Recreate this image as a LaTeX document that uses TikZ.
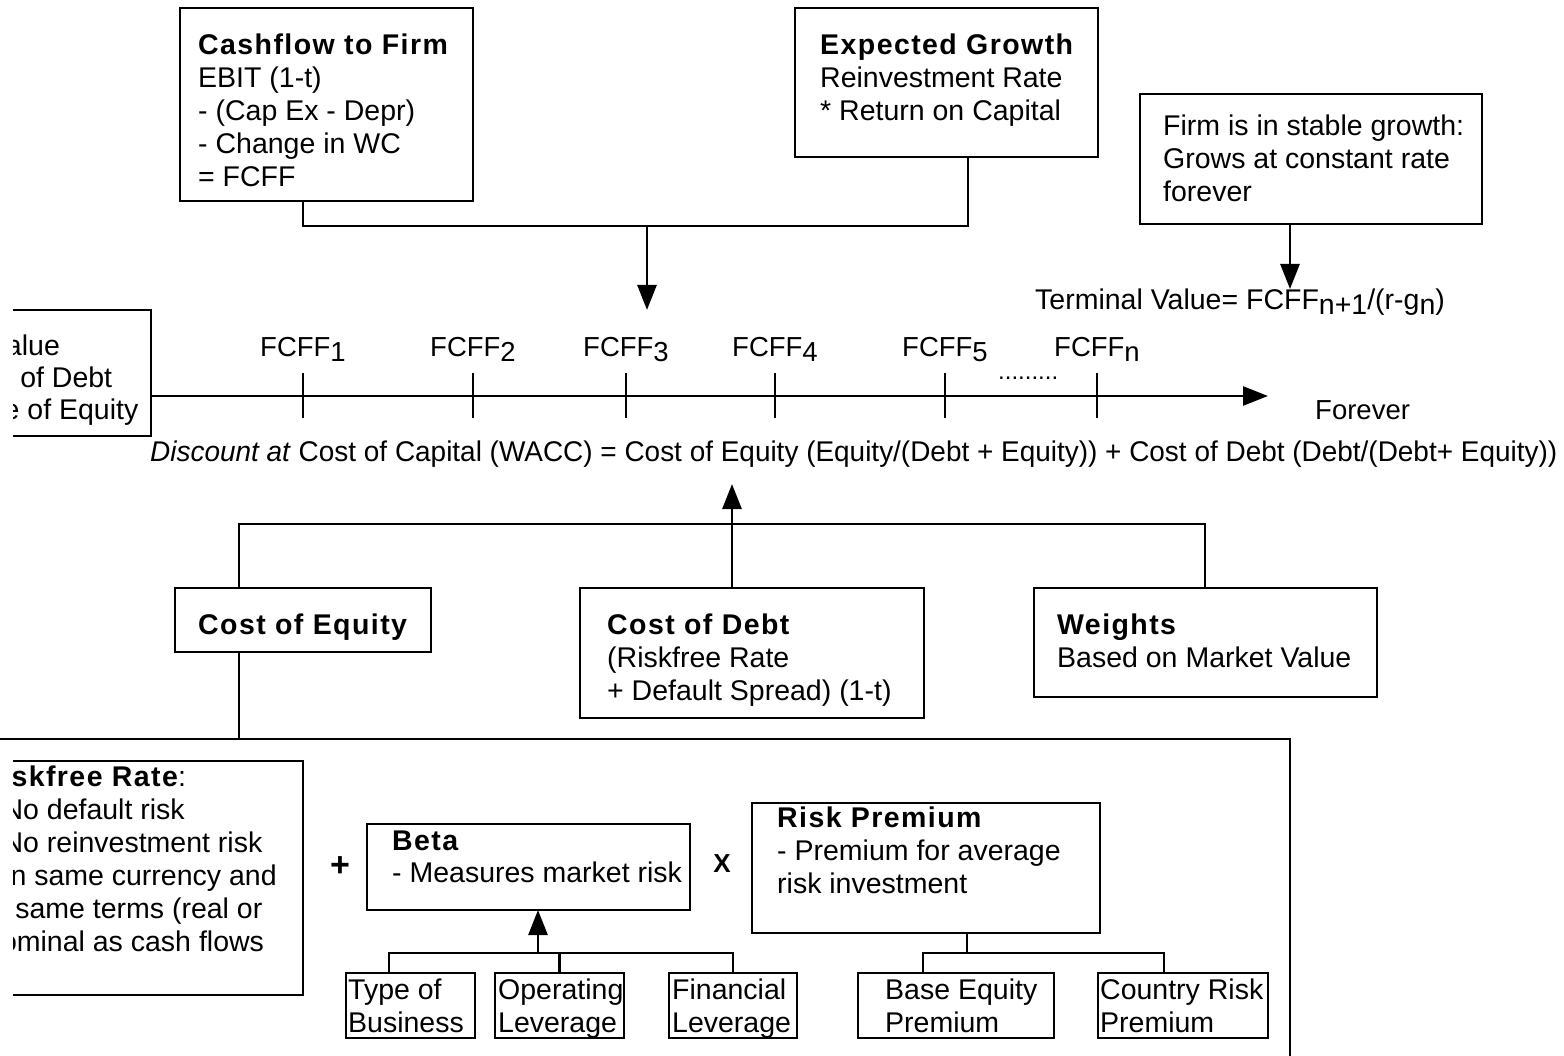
\documentclass[tikz,border=0pt]{standalone}
\usepackage{fontspec}
\usepackage{graphicx}
\setmainfont{Liberation Sans}
\newfontfamily\ttlfont[LetterSpace=5]{Liberation Sans}
\usetikzlibrary{arrows.meta,calc}
\newcommand\mlines[1]{\begin{tabular}[t]{@{}l@{}}#1\end{tabular}}
\newcommand\ttl[1]{{\ttlfont\bfseries #1}}
\newcommand\sbs[1]{\raisebox{-5pt}{#1}}
\newcommand\bx[5]{\node[box, minimum width={(#4)*1pt-(#2)*1pt}, minimum height={(#5)*1pt-(#3)*1pt}] (#1) at (#2,#3) {};}
\tikzset{
  box/.style={draw, line width=2.7pt, inner sep=0pt, outer sep=0pt, anchor=north west},
  txt/.style={inner sep=0pt, anchor=base west},
  lbl/.style={inner sep=0pt, anchor=base, font=\fontsize{27.5}{33}\selectfont},
  conn/.style={line width=2.7pt},
  arr/.style={line width=2.7pt, -{Triangle[length=25pt,width=19pt]}},
}
\begin{document}
\begin{tikzpicture}[x=1pt,y=-1pt,font=\fontsize{28.5}{33}\selectfont]
\useasboundingbox (0,0) rectangle (1564,1056);
\clip (0,0) rectangle (1564,1056);

% ---- top boxes
\bx{cff}{180}{8}{473}{201}
\node[txt] (cfft) at (198,55) {\mlines{\ttl{Cashflow to Firm}\\EBIT (1-t)\\- (Cap Ex - Depr)\\- Change in WC\\= FCFF}};
\bx{eg}{795}{8}{1098}{157}
\node[txt] (egt) at (820,55) {\mlines{\ttl{Expected Growth}\\Reinvestment Rate\\{}* Return on Capital}};
\bx{sg}{1140}{94}{1482}{224}
\node[txt] (sgt) at (1163,136) {\mlines{Firm is in stable growth:\\Grows at constant rate\\forever}};

\coordinate (jtop) at (647,226);
\coordinate (jtip) at (647,310);
\draw[conn] ($(cff.south west)+(123,0)$) |- (jtop) -| ($(eg.south west)+(173,0)$);
\draw[arr] (jtop) -- (jtip);

\node[txt] (tv) at (1035,310) {Terminal Value= FCFF\sbs{n+1}/(r-g\sbs{n})};
\coordinate (sgtip) at (1290,289);
\draw[arr] (sg.south -| sgtip) -- (sgtip);

% ---- left clipped boxes
\begin{scope}
\clip (13,0) rectangle (1564,1056);
\bx{fv}{-100}{310}{151}{436}
\node[txt,font=\fontsize{28.5}{32}\selectfont] (fvt) at (-76,356) {\mlines{Firm Value\\- Value of Debt\\= Value of Equity}};
\bx{rf}{-60}{761}{303}{995}
\node[txt] (rft) at (-15,786) {\mlines{\hspace{-5pt}\ttl{Riskfree Rate}:\\- No default risk\\- No reinvestment risk\\- In same currency and\\in same terms (real or\\nominal as cash flows}};
\end{scope}

% ---- timeline
\foreach \n/\x in {1/303,2/473,3/626,4/775,5/945,n/1097}{
  \coordinate (t\n) at (\x,396);
}
\coordinate (tlend) at (1268,396);
\draw[arr] (fv.east |- t1) -- (tlend);
\foreach \n in {1,2,3,4,5,n}{
  \draw[conn] ($(t\n)+(0,-23)$) -- ($(t\n)+(0,22)$);
  \node[lbl] (l\n) at ($(t\n)+(0,-39)$) {FCFF\sbs{\n}};
}
\node[txt,font=\fontsize{24}{24}\selectfont] (dots) at (998,380) {.........};
\node[txt,font=\fontsize{27.5}{33}\selectfont] (fe) at (1315,420) {Forever};
\node[txt] (disc) at (150,461) {\resizebox{1407pt}{\height}{\textit{Discount at} Cost of Capital (WACC) = Cost of Equity (Equity/(Debt + Equity)) + Cost of Debt (Debt/(Debt+ Equity))}};

% ---- middle boxes
\bx{coe}{175}{588}{431}{652}
\node[txt] (coet) at (198,634) {\ttl{Cost of Equity}};
\bx{cod}{580}{588}{924}{718}
\node[txt] (codt) at (607,634) {\mlines{\ttl{Cost of Debt}\\(Riskfree Rate\\+ Default Spread) (1-t)}};
\bx{wts}{1034}{588}{1377}{697}
\node[txt] (wtst) at (1057,634) {\mlines{\ttl{Weights}\\Based on Market Value}};

\coordinate (jmid) at (732,524);
\coordinate (dtip) at (732,484);
\draw[conn] ($(coe.north west)+(64,0)$) |- (jmid) -| ($(wts.north west)+(171,0)$);
\draw[arr] (cod.north -| dtip) -- (dtip);

% ---- big box
\bx{big}{-20}{739}{1290}{1100}
\coordinate (coeb) at ($(coe.south west)+(64,0)$);
\draw[conn] (coeb) -- (coeb |- big.north);

% ---- beta and risk premium
\node[inner sep=0pt,font=\fontsize{34}{34}\selectfont\bfseries] (plus) at (340,867) {+};
\bx{beta}{367}{824}{690}{910}
\node[txt,font=\fontsize{28.5}{32}\selectfont] (betat) at (392,850) {\mlines{\ttl{Beta}\\- Measures market risk}};
\node[inner sep=0pt,font=\fontsize{26}{26}\selectfont\bfseries] (times) at (722,864) {X};
\bx{rp}{752}{803}{1100}{933}
\node[txt] (rpt) at (777,827) {\mlines{\ttl{Risk Premium}\\- Premium for average\\risk investment}};

\bx{tob}{346}{973}{475}{1038}
\node[txt] (tobt) at (348,999) {\mlines{Type of\\Business}};
\bx{opl}{495}{973}{624}{1038}
\node[txt] (oplt) at (498,999) {\mlines{Operating\\Leverage}};
\bx{fin}{669}{973}{797}{1038}
\node[txt] (fint) at (672,999) {\mlines{Financial\\Leverage}};
\bx{bep}{858}{973}{1054}{1038}
\node[txt] (bept) at (885,999) {\mlines{Base Equity\\Premium}};
\bx{crp}{1098}{973}{1268}{1038}
\node[txt] (crpt) at (1100,999) {\mlines{Country Risk\\Premium}};

\coordinate (jb) at (538,953);
\draw[conn] ($(tob.north west)+(43,0)$) |- (jb) -| (fin.north);
\draw[conn] (opl.north) -- (opl.north |- jb);
\draw[arr] (jb) -- (jb |- beta.south);

\coordinate (jr) at (967,953);
\draw[conn] (rp.south -| jr) -- (jr);
\draw[conn] ($(bep.north west)+(65,0)$) |- (jr) -| ($(crp.north west)+(66,0)$);
\end{tikzpicture}
\end{document}
